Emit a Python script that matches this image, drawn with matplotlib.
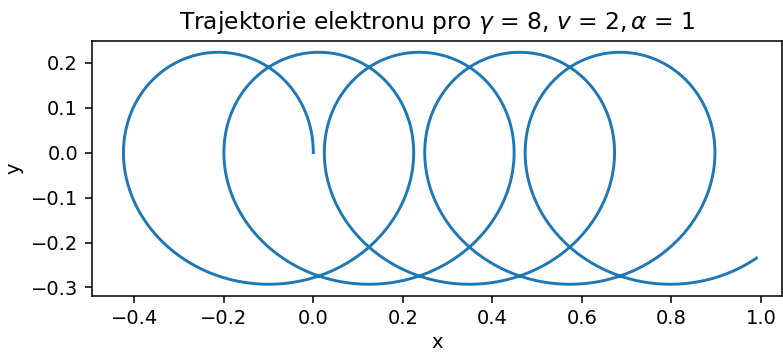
import numpy as np
import matplotlib
matplotlib.use("Agg")
import matplotlib.pyplot as plt

# Values (trochoid-like electron trajectory)
gamma_val, v_val, alpha_val = 8, 2, 1
drift_per_radian = 0.0357     # horizontal drift per radian of gyration
semi_axis_x = 0.2657          # horizontal half-size of a loop
semi_axis_y = 0.2583          # vertical half-size of a loop
center_y = -0.0347            # vertical centre of the loops
end_phase = 30.53             # total gyration phase at the end of the track
x_limits = (-0.495, 1.0476)
y_limits = (-0.3185, 0.2494)

DPI = 140
fig = plt.figure(figsize=(783 / DPI, 352 / DPI), dpi=DPI)
ax = fig.add_axes([0.1171, 0.1599, 0.8820, 0.7245])

start_phase = np.arcsin(drift_per_radian / semi_axis_x)
phase = np.linspace(start_phase, end_phase, 4000)
center_x0 = -semi_axis_x * np.cos(start_phase)
x = drift_per_radian * (phase - start_phase) + semi_axis_x * np.cos(phase) + center_x0
y = center_y + semi_axis_y * np.sin(phase)

ax.plot(x, y, color="#1f77b4", lw=1.5)
ax.set_xlim(*x_limits)
ax.set_ylim(*y_limits)
ax.set_xlabel("x", labelpad=2.5)
ax.set_ylabel("y")
ax.set_title(r"Trajektorie elektronu pro $\gamma$ = %d, $v$ = %d,$\,\alpha$ = %d"
             % (gamma_val, v_val, alpha_val))
ax.set_yticks([-0.3, -0.2, -0.1, 0.0, 0.1, 0.2])
fig.savefig("out.png", dpi=DPI)
